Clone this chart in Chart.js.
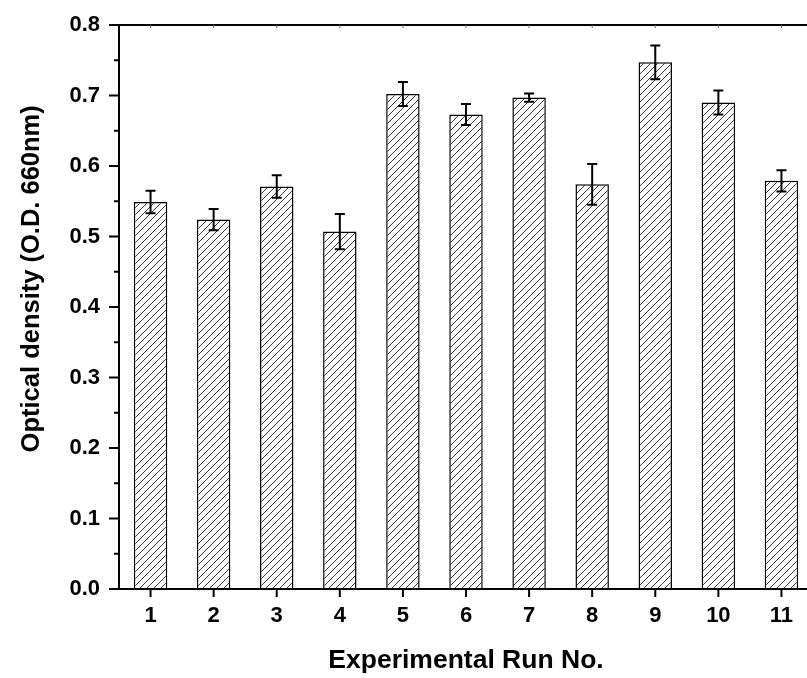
<!DOCTYPE html>
<html>
<head>
<meta charset="utf-8">
<script src="https://cdn.jsdelivr.net/npm/chart.js@4/dist/chart.umd.min.js"></script>
<style>
  html, body { margin: 0; padding: 0; background: #fff; overflow: hidden; }
  #wrap { width: 807px; height: 678px; overflow: hidden; }
</style>
</head>
<body>
<div id="wrap"><canvas id="odChart" width="830" height="678"></canvas></div>
<script>
// Chart data
const runs = ['1', '2', '3', '4', '5', '6', '7', '8', '9', '10', '11'];
const density = [0.549, 0.524, 0.571, 0.507, 0.702, 0.673, 0.697, 0.574, 0.747, 0.690, 0.579];
const densityErr = [0.016, 0.015, 0.016, 0.025, 0.017, 0.015, 0.006, 0.029, 0.024, 0.017, 0.015];
const yTicks = [0, 0.1, 0.2, 0.3, 0.4, 0.5, 0.6, 0.7, 0.8];
const yMinorTicks = [0.05, 0.15, 0.25, 0.35, 0.45, 0.55, 0.65, 0.75];
const yTitle = 'Optical density (O.D. 660nm)';

const fontFamily = '"Liberation Sans", Arial, Helvetica, sans-serif';

// diagonal hatch fill for the bars
function makeHatch() {
  const size = 7;
  const c = document.createElement('canvas');
  c.width = size;
  c.height = size;
  const g = c.getContext('2d');
  g.fillStyle = '#fff';
  g.fillRect(0, 0, size, size);
  g.strokeStyle = '#222';
  g.lineWidth = 0.9;
  g.beginPath();
  for (let k = -1; k <= 1; k++) {
    g.moveTo(k * size - 1, size + 1);
    g.lineTo(k * size + size + 1, -1);
  }
  g.stroke();
  return g.createPattern(c, 'repeat');
}

const ctx = document.getElementById('odChart').getContext('2d');

// axes frame, tick marks, error bars and the y title (sits a bit above centre)
const framePlugin = {
  id: 'frame',
  afterDatasetsDraw(chart) {
    const { ctx, chartArea: a, scales: { x, y } } = chart;
    ctx.save();
    ctx.strokeStyle = '#000';
    ctx.lineCap = 'butt';

    // error bars
    ctx.lineWidth = 2;
    density.forEach((v, i) => {
      const px = x.getPixelForValue(i);
      const top = y.getPixelForValue(v + densityErr[i]);
      const bot = y.getPixelForValue(v - densityErr[i]);
      ctx.beginPath();
      ctx.moveTo(px, top);
      ctx.lineTo(px, bot);
      ctx.moveTo(px - 5, top);
      ctx.lineTo(px + 5, top);
      ctx.moveTo(px - 5, bot);
      ctx.lineTo(px + 5, bot);
      ctx.stroke();
    });

    // axis lines
    ctx.lineWidth = 2;
    ctx.beginPath();
    ctx.moveTo(a.left, a.top);
    ctx.lineTo(a.right, a.top);
    ctx.moveTo(a.left, a.top - 1);
    ctx.lineTo(a.left, a.bottom + 1);
    ctx.moveTo(a.left - 10, a.bottom);
    ctx.lineTo(a.right, a.bottom);
    ctx.stroke();

    // y ticks
    ctx.beginPath();
    yTicks.forEach(t => {
      const py = y.getPixelForValue(t);
      ctx.moveTo(a.left - 10, py);
      ctx.lineTo(a.left, py);
    });
    yMinorTicks.forEach(t => {
      const py = y.getPixelForValue(t);
      ctx.moveTo(a.left - 5, py);
      ctx.lineTo(a.left, py);
    });
    // x ticks
    runs.forEach((r, i) => {
      const px = x.getPixelForValue(i);
      ctx.moveTo(px, a.bottom);
      ctx.lineTo(px, a.bottom + 8);
    });
    ctx.stroke();

    // small ticks on the top axis
    ctx.lineWidth = 1;
    ctx.strokeStyle = '#666';
    ctx.beginPath();
    runs.forEach((r, i) => {
      const px = x.getPixelForValue(i);
      ctx.moveTo(px, a.top);
      ctx.lineTo(px, a.top + 3);
    });
    ctx.stroke();

    // y axis title
    ctx.translate(32, y.getPixelForValue(0.44));
    ctx.rotate(-Math.PI / 2);
    ctx.fillStyle = '#000';
    ctx.font = 'bold 25.5px ' + fontFamily;
    ctx.textAlign = 'center';
    ctx.textBaseline = 'middle';
    ctx.fillText(yTitle, 0, 0);
    ctx.restore();
  }
};

new Chart(ctx, {
  type: 'bar',
  data: {
    labels: runs,
    datasets: [{
      data: density,
      backgroundColor: makeHatch(),
      borderColor: '#000',
      borderWidth: 1.5,
      borderSkipped: 'bottom',
      categoryPercentage: 1,
      barPercentage: 0.53
    }]
  },
  options: {
    responsive: false,
    animation: false,
    layout: { padding: { top: 25, right: 17, left: 0, bottom: 0 } },
    plugins: {
      legend: { display: false },
      tooltip: { enabled: false }
    },
    scales: {
      x: {
        offset: true,
        grid: { display: false, drawTicks: false },
        border: { display: false },
        ticks: {
          color: '#000',
          padding: 14,
          maxRotation: 0,
          font: { family: fontFamily, size: 22, weight: 'bold' }
        },
        title: {
          display: true,
          text: 'Experimental Run No.',
          color: '#000',
          padding: { top: 0, bottom: 1 },
          font: { family: fontFamily, size: 26.5, weight: 'bold' }
        },
        afterFit(scale) {
          scale.height = 89;
          scale.paddingLeft = 0;
          scale.paddingRight = 0;
        }
      },
      y: {
        min: 0,
        max: 0.8,
        grid: { display: false, drawTicks: false },
        border: { display: false },
        ticks: {
          stepSize: 0.1,
          color: '#000',
          padding: 19,
          font: { family: fontFamily, size: 22, weight: 'bold' },
          callback: v => v.toFixed(1)
        },
        afterFit(scale) {
          scale.width = 119;
          scale.paddingTop = 0;
          scale.paddingBottom = 0;
        }
      }
    }
  },
  plugins: [framePlugin]
});
</script>
</body>
</html>
